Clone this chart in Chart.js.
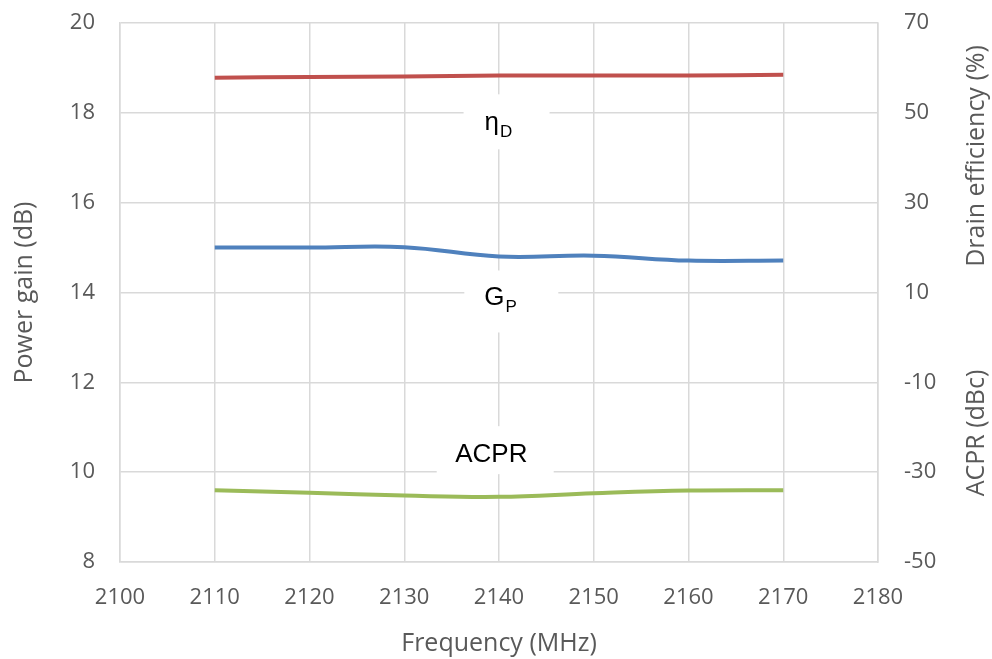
<!DOCTYPE html>
<html>
<head>
<meta charset="utf-8">
<script src="https://cdn.jsdelivr.net/npm/chart.js@4/dist/chart.umd.min.js"></script>
<style>
  html, body { margin: 0; padding: 0; background: #fff; }
  #wrap { width: 992px; height: 659px; }
</style>
</head>
<body>
<div id="wrap"><canvas id="chart" width="992" height="659"></canvas></div>
<script>
// frequency points (MHz)
const frequencies = [2110, 2120, 2130, 2140, 2150, 2160, 2170];
// power gain, dB (left axis)
const powerGain = [15.0, 15.0, 15.01, 14.8, 14.82, 14.71, 14.71];
// drain efficiency, % (right axis)
const drainEff = [57.8, 58.0, 58.1, 58.3, 58.3, 58.3, 58.5];
// ACPR, dBc (right axis)
const acpr = [-34.0, -34.6, -35.2, -35.5, -34.7, -34.1, -34.0];

const xTicks = [2100, 2110, 2120, 2130, 2140, 2150, 2160, 2170, 2180];
const leftTicks = [8, 10, 12, 14, 16, 18, 20];
const rightTicks = [-50, -30, -10, 10, 30, 50, 70];

const GRID = '#d9d9d9';
const TEXT = '#595959';
const FONT = "'Open Sans', sans-serif";

const toPoints = ys => frequencies.map((f, i) => ({ x: f, y: ys[i] }));

// curve labels: main text, subscript, box anchor in data units (left axis)
const curveLabels = [
    { main: 'η', sub: 'D', x: 2140.8, y: 17.8, w: 86, h: 55, dx: -22, dy: 8 },
    { main: 'G', sub: 'P', x: 2141.3, y: 13.8, w: 94, h: 62, dx: -27, dy: 4 },
    { main: 'ACPR', sub: '', x: 2139.6, y: 10.49, w: 117, h: 48, dx: -40, dy: 12 }
];

const labelPlugin = {
    id: 'curveLabels',
    beforeDatasetsDraw(chart) {
        const { ctx, scales } = chart;
        ctx.save();
        ctx.fillStyle = '#fff';
        curveLabels.forEach(l => {
            const cx = scales.x.getPixelForValue(l.x);
            const cy = scales.y.getPixelForValue(l.y);
            ctx.fillRect(cx - l.w / 2, cy - l.h / 2, l.w, l.h);
        });
        ctx.restore();
    },
    afterDatasetsDraw(chart) {
        const { ctx, scales } = chart;
        ctx.save();
        ctx.fillStyle = '#000';
        ctx.textBaseline = 'alphabetic';
        ctx.textAlign = 'left';
        curveLabels.forEach(l => {
            const cx = scales.x.getPixelForValue(l.x);
            const cy = scales.y.getPixelForValue(l.y);
            const x0 = cx + l.dx, y0 = cy + l.dy;
            ctx.font = "26px 'Liberation Sans', Arial, sans-serif";
            ctx.fillText(l.main, x0, y0);
            const w = ctx.measureText(l.main).width;
            if (l.sub) {
                ctx.font = "17px 'Liberation Sans', Arial, sans-serif";
                ctx.fillText(l.sub, x0 + w + 1, y0 + 7);
            }
        });
        ctx.restore();
    }
};

// the right axis carries two titles stacked along it
const rightTitles = {
    id: 'rightTitles',
    afterDraw(chart) {
        const { ctx } = chart;
        const x = chart.width - 15;
        ctx.save();
        ctx.fillStyle = TEXT;
        ctx.font = '25px ' + FONT;
        ctx.textAlign = 'center';
        ctx.textBaseline = 'middle';
        [['Drain efficiency (%)', 156], ['ACPR (dBc)', 433]].forEach(([t, y]) => {
            ctx.save();
            ctx.translate(x, y);
            ctx.rotate(-Math.PI / 2);
            ctx.fillText(t, 0, 0);
            ctx.restore();
        });
        ctx.restore();
    }
};

const lineStyle = color => ({
    borderColor: color,
    backgroundColor: color,
    borderWidth: 4,
    pointRadius: 0,
    tension: 0.4,
    fill: false
});

// fixed axis sizes, and no extra vertical padding from tick labels
const fixY = w => s => { s.width = w; s.paddingTop = 0; s.paddingBottom = 0; };

new Chart(document.getElementById('chart'), {
    type: 'line',
    data: {
        datasets: [
            { label: 'ηD', data: toPoints(drainEff), yAxisID: 'y1', ...lineStyle('#c0504d') },
            { label: 'GP', data: toPoints(powerGain), yAxisID: 'y', ...lineStyle('#4f81bd') },
            { label: 'ACPR', data: toPoints(acpr), yAxisID: 'y1', ...lineStyle('#9bbb59') }
        ]
    },
    options: {
        responsive: false,
        animation: false,
        layout: { padding: { top: 23 } },
        plugins: {
            legend: { display: false },
            tooltip: { enabled: false }
        },
        scales: {
            x: {
                type: 'linear',
                position: 'bottom',
                min: xTicks[0],
                max: xTicks[xTicks.length - 1],
                afterBuildTicks: s => { s.ticks = xTicks.map(v => ({ value: v })); },
                afterFit: s => { s.height = 97; },
                grid: { color: GRID, lineWidth: 1.5, drawTicks: false },
                border: { color: GRID, width: 1.5 },
                ticks: { color: TEXT, font: { family: FONT, size: 22 }, padding: 23, maxRotation: 0, callback: v => String(v) },
                title: { display: true, text: 'Frequency (MHz)', color: TEXT, font: { family: FONT, size: 25 }, padding: { bottom: 0 } }
            },
            y: {
                position: 'left',
                min: leftTicks[0],
                max: leftTicks[leftTicks.length - 1],
                afterBuildTicks: s => { s.ticks = leftTicks.map(v => ({ value: v })); },
                afterFit: fixY(120),
                grid: { color: GRID, lineWidth: 1.5, drawTicks: false },
                border: { color: GRID, width: 1.5 },
                ticks: { color: TEXT, font: { family: FONT, size: 22 }, padding: 25 },
                title: { display: true, text: 'Power gain (dB)', color: TEXT, font: { family: FONT, size: 25 }, padding: { top: 10 } }
            },
            y1: {
                position: 'right',
                min: rightTicks[0],
                max: rightTicks[rightTicks.length - 1],
                afterBuildTicks: s => { s.ticks = rightTicks.map(v => ({ value: v })); },
                afterFit: fixY(114),
                grid: { display: false, drawTicks: false },
                border: { color: GRID, width: 1.5 },
                ticks: { color: TEXT, font: { family: FONT, size: 22 }, padding: 26 }
            }
        }
    },
    plugins: [labelPlugin, rightTitles]
});
</script>
</body>
</html>
